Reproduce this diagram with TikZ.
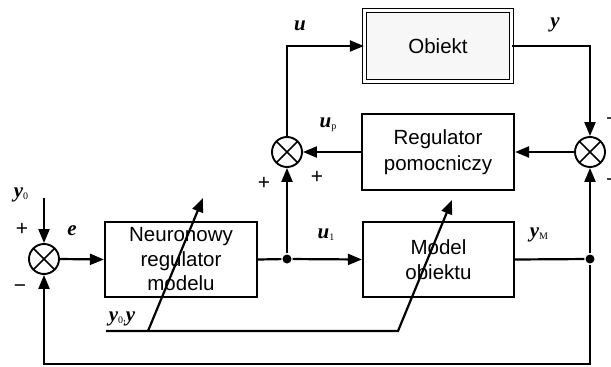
\documentclass[tikz,border=0pt]{standalone}
\usepackage{fontspec}
\setmainfont{Liberation Sans}
\newfontfamily\lblfont{Liberation Serif}
\usetikzlibrary{arrows.meta}
\newcommand{\lblsig}[2]{{\lblfont\fontsize{21}{21}\selectfont\bfseries\itshape #1}\raisebox{-2pt}{\lblfont\fontsize{10}{10}\selectfont #2}}
\begin{document}
\begin{tikzpicture}[x=1pt,y=-1pt,line width=2.2pt,
  blk/.style={draw,line width=2.2pt,minimum width=152pt,minimum height=76pt,inner sep=0pt,align=center,font=\fontsize{20.5}{25.5}\selectfont},
  objblk/.style={draw,double,double distance=2.2pt,line width=1.3pt,fill=black!3,minimum width=147pt,minimum height=71pt,inner sep=0pt,font=\fontsize{20.5}{25}\selectfont},
  sumc/.style={circle,draw,line width=1.9pt,minimum size=30pt,inner sep=0pt,
    path picture={\draw[line width=1.6pt] (path picture bounding box.north west) -- (path picture bounding box.south east)
      (path picture bounding box.north east) -- (path picture bounding box.south west);}},
  dotc/.style={circle,fill,inner sep=0pt,minimum size=9pt},
  arr/.style={-{Triangle[length=14pt,width=11pt]}},
  sgn/.style={font=\fontsize{21}{21}\selectfont,inner sep=0pt},
  lbl/.style={inner sep=0pt}]
\useasboundingbox (0,0) rectangle (611,367);
% blocks
\node[objblk] (obj) at (438,46) {Obiekt};
\node[blk] (pom) at (438,152) {Regulator\\pomocniczy};
\node[blk,minimum height=75pt,font=\fontsize{20.5}{24.5}\selectfont] (nrm) at (181,259.5) {Neuronowy\\regulator\\modelu};
\node[blk,minimum height=75pt,minimum width=151pt] (mod) at (438.5,259.5) {Model\\obiektu};
% summing junctions
\node[sumc] (sumL) at (44,259) {};
\node[sumc] (sumP) at (287,152) {};
\node[sumc] (sumR) at (590,152) {};
% dots
\node[dotc] (d1) at (287,259) {};
\node[dotc] (d2) at (590,259) {};
% auxiliary coordinates
\coordinate (y0in) at (44,198);
\coordinate (tl) at (287,46);
\coordinate (tr) at (590,46);
\coordinate (br) at (590,364);
\coordinate (bl) at (44,364);
\coordinate (yl) at (106,331);
\coordinate (b1) at (148,331);
\coordinate (b2) at (398,331);
\coordinate (t1) at (203,198);
\coordinate (t2) at (452,200);
% connectors
\draw[arr] (y0in) -- (sumL.north);
\draw[arr] (sumL.east) -- (nrm.west);
\draw (nrm.east) -- (d1);
\draw[arr] (d1) -- (mod.west);
\draw[arr] (d1) -- (sumP.south);
\draw[arr] (sumP.north) -- (tl) -- (obj.west);
\draw[arr] (obj.east) -- (tr) -- (sumR.north);
\draw[arr] (sumR.west) -- (pom.east);
\draw[arr] (pom.west) -- (sumP.east);
\draw (mod.east) -- (d2);
\draw[arr] (d2) -- (sumR.south);
\draw[arr] (d2) -- (br) -- (bl) -- (sumL.south);
\draw[arr] (yl) -- (b2) -- (t2);
\draw[arr] (b1) -- (t1);
% labels
\node[lbl] (ly0) at (21,195) {\lblsig{y}{0}};
\node[sgn] (pl1) at (22,229) {+};
\node[lbl] (le) at (72,232) {\lblsig{e}{}};
\node[sgn] (mi1) at (20,289) {−};
\node[lbl] (lu) at (300,27) {\lblsig{u}{}};
\node[lbl] (ly) at (555,25) {\lblsig{y}{}};
\node[lbl] (lup) at (328,125) {\lblsig{u}{p}};
\node[sgn] (pl2) at (264,183) {+};
\node[sgn] (pl3) at (317,177) {+};
\node[sgn,anchor=west] (mi2) at (605,122) {−};
\node[sgn,anchor=west] (mi3) at (605,183) {−};
\node[lbl] (lu1) at (326,235) {\lblsig{u}{1}};
\node[lbl] (lym) at (539,235) {\lblsig{y}{M}};
\node[lbl] (lyy) at (122,319) {\lblsig{y}{0},{\lblfont\fontsize{21}{21}\selectfont\bfseries\itshape y}};
\end{tikzpicture}
\end{document}
